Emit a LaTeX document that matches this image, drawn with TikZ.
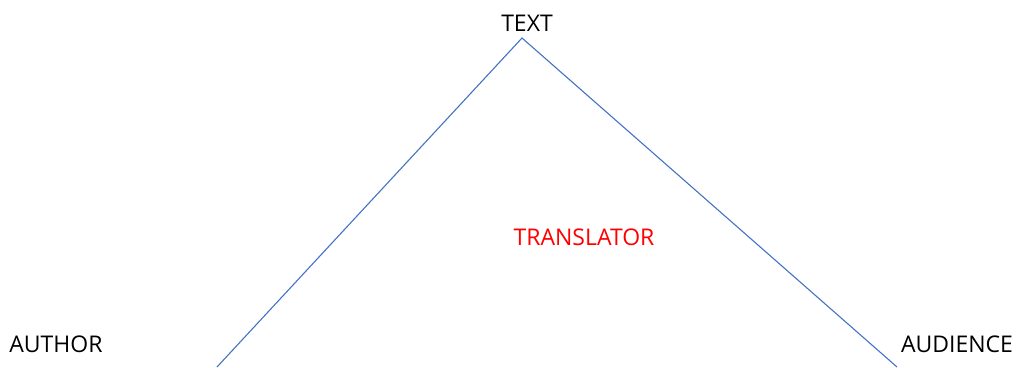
\documentclass[tikz,border=0pt]{standalone}
\usepackage{fontspec}
\setmainfont{Open Sans}
\definecolor{linecol}{HTML}{4472C4}
\definecolor{redtext}{HTML}{FF0000}
\begin{document}
\begin{tikzpicture}[x=1pt,y=-1pt,
  lbl/.style={font=\fontsize{23}{26}\selectfont, inner sep=0pt, text height=16.5pt, text depth=0pt},
  conn/.style={draw=linecol, line width=1.1pt}]
\useasboundingbox (0,0) rectangle (1016,367);
\node[lbl] (text) at (527,23) {TEXT};
\node[lbl] (author) at (56,344) {AUTHOR};
\node[lbl] (audience) at (957,344) {AUDIENCE};
\node[lbl, text=redtext] (translator) at (584,237) {TRANSLATOR};
\coordinate (apex) at (522,38);
\coordinate (left) at (217,367);
\coordinate (right) at (897,367);
\draw[conn] (left) -- (apex) -- (right);
\end{tikzpicture}
\end{document}
